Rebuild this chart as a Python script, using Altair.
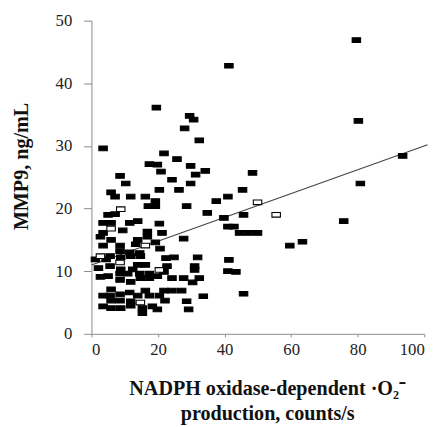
import altair as alt
import pandas as pd

# filled markers (x = NADPH oxidase-dependent O2- production, y = MMP9)
fx = [41.3, 19.5, 29.5, 30.7, 28.0, 32.4, 3.5, 21.8, 25.7, 17.4, 19.8, 29.8, 20.9, 34.2, 31.3, 24.2, 8.6, 48.4,
      10.3, 29.8, 20.4, 26.3, 5.9, 7.1, 11.8, 16.2, 19.2, 17.1, 19.2, 28.6, 37.5, 41.0, 45.4,
      7.1, 5.0, 34.8, 39.8, 45.7, 3.5, 5.9, 11.5, 13.9, 20.4, 3.5, 9.4, 16.8, 21.2, 41.0, 42.8, 44.5, 47.2, 49.9,
      2.7, 5.9, 13.9, 16.8, 19.2, 27.7, 3.5, 8.6, 13.3, 20.6, 8.6, 11.5, 14.5, 5.6, 8.8, 11.8, 14.7, 1.2, 4.4, 22.4, 24.8, 31.9, 41.3,
      13.9, 16.2, 22.7, 31.0, 2.1, 5.6, 8.8, 12.4, 31.0, 41.0, 43.4,
      2.7, 5.0, 8.6, 10.9, 14.5, 17.4, 21.8, 8.6, 11.8, 14.7, 17.4, 19.8, 24.2, 27.7, 32.4, 30.4,
      5.9, 16.2, 21.8, 24.2, 27.1, 3.5, 5.6, 8.6, 11.5, 13.9, 17.4, 20.4, 33.6, 45.7,
      5.9, 8.6, 11.8, 22.1, 28.6, 3.5, 5.9, 8.8, 11.8, 15.3, 18.3, 19.8, 15.3, 29.2,
      79.6, 80.2, 93.5, 80.8, 75.8, 59.6, 63.4]
fy = [42.8, 36.1, 34.8, 34.2, 32.8, 30.9, 29.6, 28.8, 27.9, 27.1, 27.0, 26.8, 25.9, 26.0, 25.4, 24.6, 25.2, 25.7,
      24.0, 24.0, 23.0, 23.0, 22.6, 21.9, 21.9, 21.9, 21.2, 20.4, 20.4, 20.4, 21.2, 21.9, 23.0,
      19.1, 19.0, 19.3, 18.5, 19.0, 17.7, 17.7, 17.7, 18.0, 17.6, 16.1, 16.5, 16.3, 16.1, 17.1, 17.1, 16.1, 16.1, 16.1,
      15.5, 15.0, 15.0, 15.5, 14.6, 15.2, 14.1, 14.1, 14.3, 13.6, 13.2, 13.0, 12.9, 12.4, 12.2, 12.4, 12.4, 11.9, 11.9, 12.1, 12.2, 12.2, 11.8,
      11.0, 11.0, 10.8, 10.8, 10.5, 10.8, 10.3, 10.3, 10.2, 10.0, 9.9,
      9.1, 9.2, 9.6, 9.6, 9.6, 9.6, 9.9, 8.6, 8.3, 8.9, 8.9, 9.2, 8.9, 8.9, 8.9, 8.2,
      7.1, 6.9, 6.9, 6.9, 6.9, 6.1, 6.1, 6.3, 6.6, 6.1, 6.1, 6.1, 6.0, 6.4,
      5.3, 5.3, 5.2, 5.3, 5.2, 4.4, 4.1, 4.1, 4.5, 4.1, 4.4, 3.9, 3.3, 3.9,
      46.9, 34.0, 28.4, 24.0, 18.0, 14.1, 14.7]

# open (hollow) markers
hx = [8.8, 16.2, 8.6, 14.7, 20.4, 55.5, 49.9, 2.7, 5.9]
hy = [19.9, 14.1, 11.4, 5.0, 10.2, 19.0, 21.0, 12.4, 16.8]

# fitted regression line
fit_x = [0, 101]
fit_y = [11.0, 30.2]

x_ticks = [0, 20, 40, 60, 80, 100]
y_ticks = [0, 10, 20, 30, 40, 50]

df = pd.DataFrame({
    "x": fx + hx,
    "y": fy + hy,
    "kind": ["filled"] * len(fx) + ["open"] * len(hx),
})
fit = pd.DataFrame({"x": fit_x, "y": fit_y})

SERIF = "Liberation Serif"
RECT = "M-1,-0.55H1V0.55H-1Z"

xscale = alt.Scale(domain=[0, 100], nice=False)
yscale = alt.Scale(domain=[0, 50], nice=False)

x_axis = alt.Axis(
    values=x_ticks, title=["NADPH oxidase-dependent \u00b7O\u2082\u207b", "production, counts/s"],
    grid=False, domainColor="#8a8a8a", tickColor="#8a8a8a", tickSize=3,
    labelFont=SERIF, labelFontSize=17, labelColor="#222", labelPadding=5,
    titleFont=SERIF, titleFontSize=20.5, titleFontWeight="bold", titleColor="#111",
    titleX=179, titleY=62, titleBaseline="alphabetic", titleAlign="center", titleLineHeight=25,
)
y_axis = alt.Axis(
    values=y_ticks, title="MMP9, ng/mL",
    grid=False, domainColor="#8a8a8a", tickColor="#8a8a8a", tickSize=8,
    labelFont=SERIF, labelFontSize=17, labelColor="#222", labelPadding=12,
    titleFont=SERIF, titleFontSize=20.5, titleFontWeight="bold", titleColor="#111",
    titleX=-65, titleY=148, titleBaseline="alphabetic", titleAlign="center", titleAngle=270,
)

pts = alt.Chart(df).mark_point(shape=RECT, size=74, filled=True, strokeWidth=1.1, opacity=1).encode(
    x=alt.X("x:Q", scale=xscale, axis=x_axis),
    y=alt.Y("y:Q", scale=yscale, axis=y_axis),
    fill=alt.condition(alt.datum.kind == "open", alt.value("white"), alt.value("black")),
    stroke=alt.value("black"),
)

line = alt.Chart(fit).mark_line(color="#444", strokeWidth=1.1, clip=False).encode(
    x=alt.X("x:Q", scale=xscale),
    y=alt.Y("y:Q", scale=yscale),
)

chart = alt.layer(line, pts).properties(
    width=339, height=319,
    autosize=alt.AutoSizeParams(type="none"),
    padding={"left": 85, "top": 9, "right": 15, "bottom": 90},
).configure_view(stroke=None)

chart.save("out.html", embed_options={"renderer": "svg", "actions": False})
